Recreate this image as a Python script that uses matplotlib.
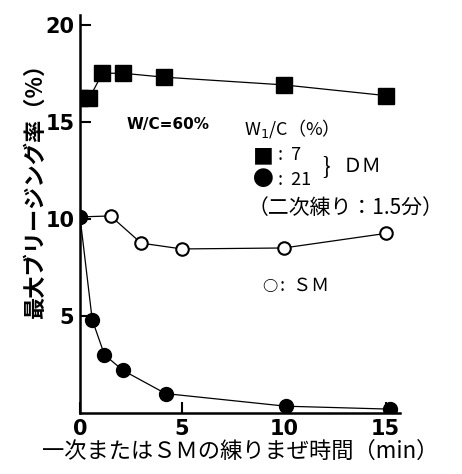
import matplotlib
matplotlib.use("Agg")
import matplotlib.pyplot as plt

plt.rcParams['font.family'] = ['Noto Sans CJK JP', 'DejaVu Sans']

# DM  W1/C=7%
dm7_x = [0, 0.45, 1.1, 2.1, 4.1, 10, 15]
dm7_y = [16.2, 16.2, 17.5, 17.5, 17.3, 16.9, 16.35]
# DM  W1/C=21%
dm21_x = [0, 0.6, 1.2, 2.1, 4.2, 10.1, 15.2]
dm21_y = [10.1, 4.8, 3.0, 2.2, 1.0, 0.35, 0.2]
# SM
sm_x = [0, 1.5, 3.0, 5.0, 10, 15]
sm_y = [10.1, 10.15, 8.75, 8.45, 8.5, 9.25]

xticks = [0, 5, 10, 15]
yticks = [5, 10, 15, 20]

fig = plt.figure(figsize=(4.62, 4.74), dpi=100)
ax = fig.add_axes([80 / 462, 1 - 413 / 474, 320 / 462, 398 / 474])

ax.plot(sm_x, sm_y, '-', color='black', lw=0.9, marker='o', ms=9,
        mfc='white', mec='black', mew=1.5, zorder=3)
ax.plot(dm7_x, dm7_y, '-', color='black', lw=0.9, marker='s', ms=11,
        mfc='black', mec='black', zorder=4)
ax.plot(dm21_x, dm21_y, '-', color='black', lw=0.9, marker='o', ms=10,
        mfc='black', mec='black', zorder=4)

ax.set_xlim(0, 15.7)
ax.set_ylim(0, 20.5)
for s in ['top', 'right']:
    ax.spines[s].set_visible(False)
for s in ['left', 'bottom']:
    ax.spines[s].set_linewidth(1.8)
ax.set_xticks(xticks)
ax.set_yticks(yticks)
ax.tick_params(direction='in', length=8, width=1.5, pad=4)
for lab in ax.get_xticklabels() + ax.get_yticklabels():
    lab.set_family('DejaVu Sans')
    lab.set_fontweight('bold')
    lab.set_fontsize(15)

ax.set_ylabel('最大ブリージング率（%）', fontsize=16, fontweight='bold')
ax.yaxis.set_label_coords(-0.105, 0.57)
ax.set_xlabel('一次またはＳＭの練りまぜ時間（min）', fontsize=16, labelpad=1)

def ftext(px, py, s, **kw):
    fig.text(px / 462, 1 - py / 474, s, va='center', **kw)

ftext(168, 125, 'W/C=60%', ha='center', fontsize=11,
      family='DejaVu Sans', fontweight='bold')
ftext(244, 128, 'W$_1$/C（%）', ha='left', fontsize=13)
ftext(253, 157, '■', ha='left', fontsize=15)
ftext(278, 155, ':  7', ha='left', fontsize=13)
ftext(253, 180, '●', ha='left', fontsize=15)
ftext(278, 180, ':  21', ha='left', fontsize=13)
ftext(322, 167, '}', ha='left', fontsize=16)
ftext(343, 167, 'ＤＭ', ha='left', fontsize=14)
ftext(248, 208, '（二次練り：1.5分）', ha='left', fontsize=15)
ftext(262, 286, '○', ha='left', fontsize=11, fontweight='bold')
ftext(280, 286, ':  ＳＭ', ha='left', fontsize=13)

fig.savefig('out.png', dpi=100)
